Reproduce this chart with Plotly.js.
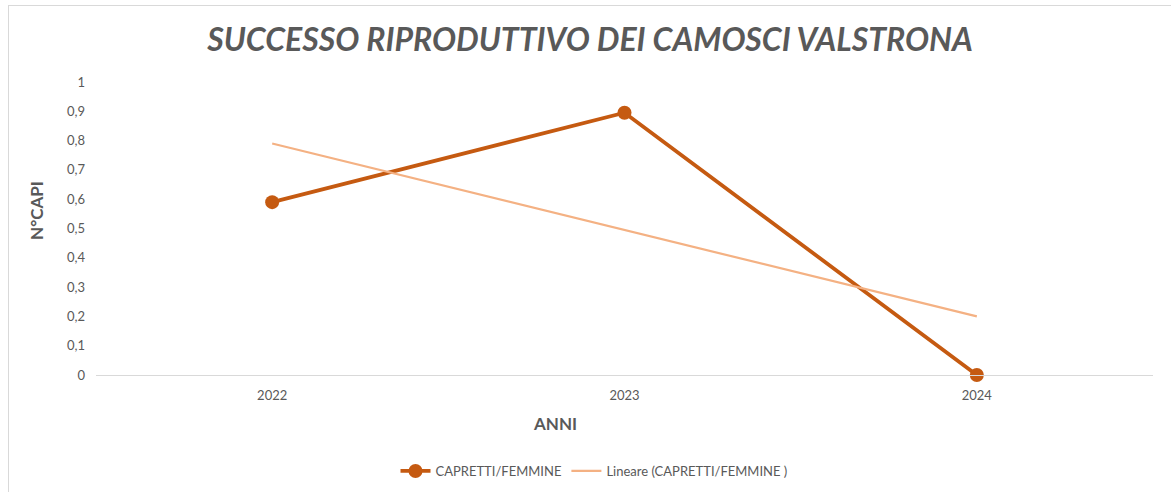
<!DOCTYPE html>
<html>
<head>
<meta charset="utf-8">
<script src="https://cdn.plot.ly/plotly-3.0.1.min.js"></script>
<style>
html,body{margin:0;padding:0;background:#fff;overflow:hidden;}
#wrap{position:absolute;left:8px;top:5px;width:1163px;height:487px;border-left:1px solid #d9d9d9;border-top:1px solid #d9d9d9;}
#chart{width:1162px;height:486px;}
</style>
</head>
<body>
<div id="wrap"><div id="chart"></div></div>
<script>
var years = ['2022', '2023', '2024'];
var caprettiFemmine = [0.59, 0.895, 0];
var lineare = [0.79, 0.495, 0.2];
var yTicks = [0, 0.1, 0.2, 0.3, 0.4, 0.5, 0.6, 0.7, 0.8, 0.9, 1];
var yTickText = ['0', '0,1', '0,2', '0,3', '0,4', '0,5', '0,6', '0,7', '0,8', '0,9', '1'];

var FONT = 'Lato, "Open Sans", sans-serif';
var GREY = '#595959';

var traces = [
  {
    x: years, y: caprettiFemmine, type: 'scatter', mode: 'lines+markers',
    name: 'CAPRETTI/FEMMINE',
    line: {color: '#C55A11', width: 3.8},
    marker: {color: '#C55A11', size: 14},
    legendrank: 1, cliponaxis: false
  },
  {
    x: years, y: lineare, type: 'scatter', mode: 'lines',
    name: 'Lineare (CAPRETTI/FEMMINE )',
    line: {color: '#F4B183', width: 2.2},
    legendrank: 2, cliponaxis: false
  }
];

var layout = {
  width: 1162, height: 486,
  margin: {l: 87, r: 18, t: 76, b: 117},
  paper_bgcolor: '#ffffff', plot_bgcolor: '#ffffff',
  font: {family: FONT, color: GREY, size: 13},
  showlegend: true,
  title: {
    text: '<b><i>SUCCESSO RIPRODUTTIVO DEI CAMOSCI VALSTRONA</i></b>',
    font: {family: FONT, size: 32, color: GREY},
    x: 0.5, xanchor: 'center', xref: 'container',
    y: 0.93, yanchor: 'middle', yref: 'container'
  },
  xaxis: {
    type: 'category', range: [-0.5, 2.5],
    showgrid: false, zeroline: false,
    showline: true, linecolor: '#d9d9d9', linewidth: 1,
    ticks: '', ticklabelstandoff: 8,
    tickfont: {family: FONT, size: 13, color: GREY},
    fixedrange: true
  },
  yaxis: {
    range: [0, 1], tickvals: yTicks, ticktext: yTickText,
    showgrid: false, zeroline: false, showline: false,
    ticks: '', ticklabelstandoff: 10,
    tickfont: {family: FONT, size: 13, color: GREY},
    fixedrange: true
  },
  annotations: [
    {text: '<b>ANNI</b>', xref: 'paper', yref: 'paper', x: 0.434, y: -0.167,
     xanchor: 'center', yanchor: 'middle', showarrow: false,
     font: {family: FONT, size: 17, color: GREY}},
    {text: '<b>N°CAPI</b>', xref: 'paper', yref: 'paper', x: -0.0558, y: 0.56,
     xanchor: 'center', yanchor: 'middle', showarrow: false, textangle: -90,
     font: {family: FONT, size: 17, color: GREY}}
  ],
  legend: {
    orientation: 'h', xref: 'container', yref: 'container',
    x: 585/1162, xanchor: 'center', y: 1 - 465/486, yanchor: 'middle',
    font: {family: FONT, size: 13, color: GREY},
    itemwidth: 30, tracegroupgap: 0, traceorder: 'normal'
  }
};

Plotly.newPlot('chart', traces, layout, {displayModeBar: false, staticPlot: true});
</script>
</body>
</html>
